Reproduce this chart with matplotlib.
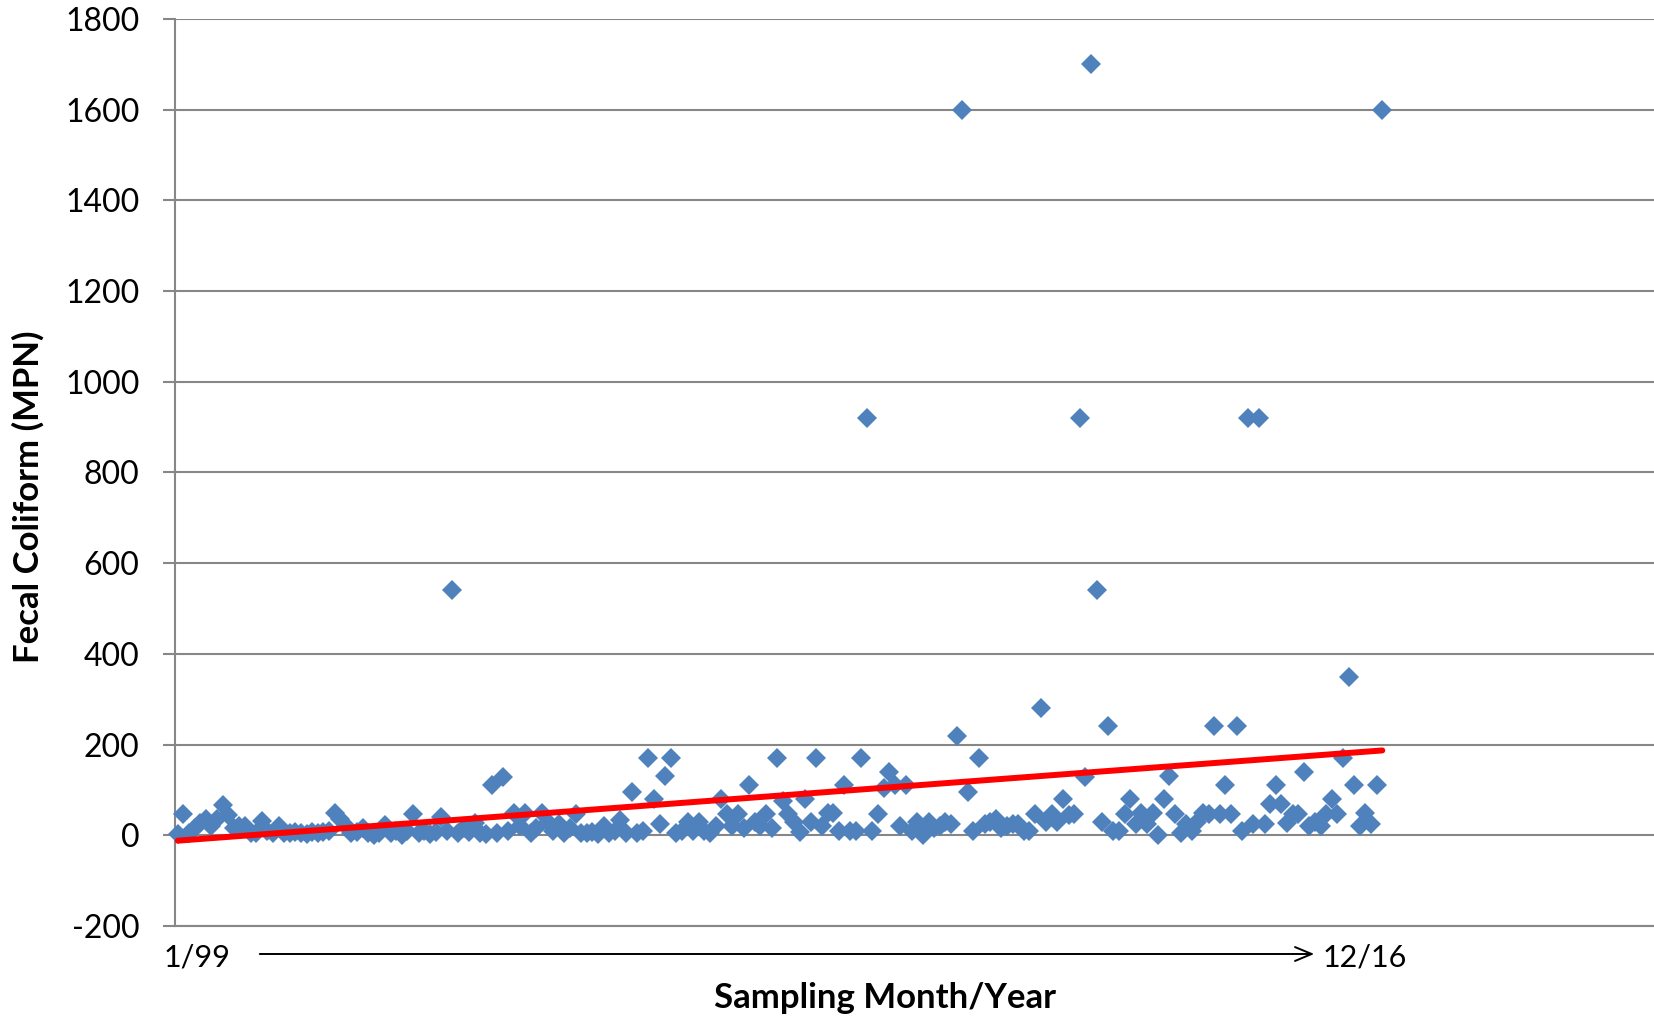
import numpy as np
import matplotlib
matplotlib.use("Agg")
import matplotlib.pyplot as plt

# Fecal coliform (MPN), monthly samples 1/99 .. 12/16
fecal_coliform = [
    3, 48, 5, 15, 26, 35, 20, 35, 66, 44,
    15, 20, 20, 5, 5, 32, 10, 5, 20, 5,
    5, 8, 5, 3, 8, 5, 8, 10, 50, 35,
    20, 5, 8, 15, 5, 0, 5, 22, 5, 10,
    0, 10, 48, 5, 10, 2, 8, 40, 10, 540,
    5, 15, 8, 26, 5, 2, 110, 5, 128, 10,
    50, 20, 50, 5, 15, 50, 30, 10, 25, 5,
    15, 47, 5, 5, 8, 3, 20, 5, 10, 33,
    5, 95, 5, 10, 170, 81, 25, 130, 170, 5,
    10, 30, 10, 30, 10, 5, 20, 81, 47, 20,
    47, 15, 110, 30, 20, 47, 15, 170, 75, 47,
    30, 8, 81, 30, 170, 20, 50, 50, 10, 110,
    10, 10, 170, 920, 10, 47, 105, 140, 110, 20,
    110, 10, 30, 0, 30, 15, 20, 30, 25, 220,
    1600, 95, 10, 170, 25, 30, 35, 15, 20, 25,
    25, 10, 10, 47, 280, 30, 47, 30, 81, 44,
    47, 920, 128, 1700, 540, 30, 240, 10, 10, 47,
    81, 25, 50, 25, 50, 0, 81, 130, 47, 5,
    25, 10, 30, 50, 47, 240, 47, 110, 47, 240,
    10, 920, 25, 920, 25, 70, 110, 70, 28, 47,
    47, 140, 20, 30, 20, 47, 81, 47, 170, 350,
    110, 20, 50, 25, 110, 1600,
]
y_ticks = [-200, 0, 200, 400, 600, 800, 1000, 1200, 1400, 1600, 1800]
start_label = "1/99"
end_label = "12/16"
x_title = "Sampling Month/Year"
y_title = "Fecal Coliform (MPN)"

plt.rcParams['font.family'] = ['Lato', 'DejaVu Sans']
plt.rcParams['axes.unicode_minus'] = False

y = np.array(fecal_coliform, dtype=float)
x = np.arange(len(y))
slope, intercept = np.polyfit(x, y, 1)

fig = plt.figure(figsize=(16.54, 10.17), dpi=100)
ax = fig.add_axes([0.1058, 0.0895, 0.8942, 0.8918])

grid_c = '#878787'
ax.set_ylim(-200, 1800)
ax.set_xlim(-0.5, 263.5)
ax.set_yticks(y_ticks)
ax.set_xticks([])
for t in y_ticks:
    ax.axhline(t, color=grid_c, lw=1.5, zorder=1)

ax.plot(x, y, linestyle='none', marker='D', ms=10, mew=0,
        color='#4F81BD', zorder=3, clip_on=False)
xl = np.array([x[0], x[-1]])
ax.plot(xl, slope * xl + intercept, color='#FF0000', lw=4.3,
        solid_capstyle='round', zorder=4)

for s in ['top', 'right']:
    ax.spines[s].set_visible(False)
ax.spines['left'].set_color(grid_c)
ax.spines['left'].set_linewidth(1.5)
ax.spines['bottom'].set_color(grid_c)
ax.spines['bottom'].set_linewidth(1.5)
ax.tick_params(axis='y', length=8.6, width=1.5, color=grid_c,
               labelsize=23, pad=17, labelcolor='black')

# y title
fig.text(28 / 1654, 1 - 497 / 1017, y_title, fontsize=25, fontweight='bold',
         rotation=90, ha='center', va='center')

# bottom annotations
fig.text(164 / 1654, 1 - 958 / 1017, start_label, fontsize=22,
         ha='left', va='center')
fig.text(1323 / 1654, 1 - 958 / 1017, end_label, fontsize=22,
         ha='left', va='center')
fig.add_artist(matplotlib.patches.FancyArrowPatch(
    (257 / 1654, 1 - 954 / 1017), (1317 / 1654, 1 - 954 / 1017),
    transform=fig.transFigure, arrowstyle='->,head_length=12,head_width=5',
    mutation_scale=1, color='black', lw=1.4))
fig.text(885 / 1654, 1 - 998 / 1017, x_title, fontsize=25,
         fontweight='bold', ha='center', va='center')

fig.savefig('out.png', dpi=100)
